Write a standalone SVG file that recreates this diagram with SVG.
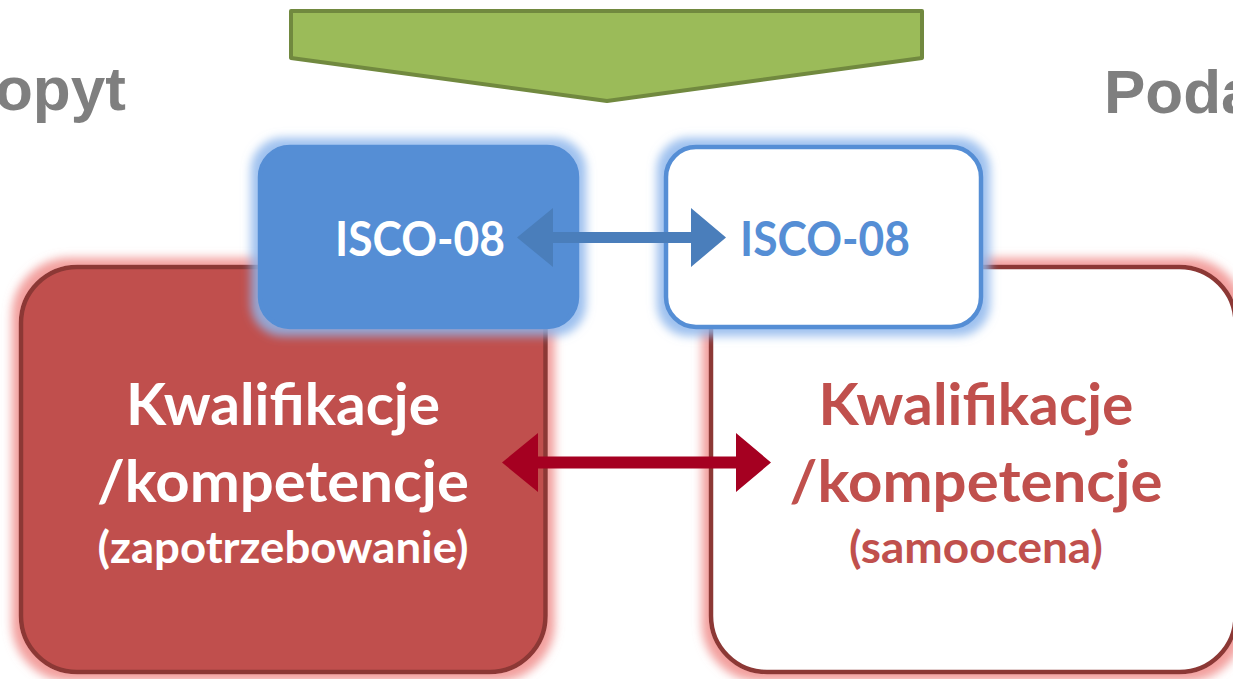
<svg xmlns="http://www.w3.org/2000/svg" width="1233" height="679" viewBox="0 0 1233 679">
  <style>
    .side { font-family: "Liberation Sans", Arial, sans-serif; font-weight: bold; font-size: 62px; fill: #7F7F7F; }
    .lbl { font-family: Lato, "Open Sans", sans-serif; font-weight: bold; text-anchor: middle; }
    .main { font-size: 57px; }
    .sub { font-size: 43px; }
    .isco { font-size: 47px; }
    .redBox { stroke: #8C3836; stroke-width: 4.5; }
    .blueBox { stroke: #558ED5; stroke-width: 4.5; }
  </style>
  <defs>
    <filter id="glowRed" x="-10%" y="-10%" width="120%" height="120%">
      <feMorphology in="SourceAlpha" operator="dilate" radius="7" result="grown"/>
      <feGaussianBlur in="grown" stdDeviation="5" result="soft"/>
      <feFlood flood-color="#F08E8C" flood-opacity="0.85"/>
      <feComposite in2="soft" operator="in" result="halo"/>
      <feMerge><feMergeNode in="halo"/><feMergeNode in="SourceGraphic"/></feMerge>
    </filter>
    <filter id="glowBlue" x="-15%" y="-20%" width="130%" height="140%">
      <feMorphology in="SourceAlpha" operator="dilate" radius="7" result="grown"/>
      <feGaussianBlur in="grown" stdDeviation="5" result="soft"/>
      <feFlood flood-color="#8DB6EC" flood-opacity="0.85"/>
      <feComposite in2="soft" operator="in" result="halo"/>
      <feMerge><feMergeNode in="halo"/><feMergeNode in="SourceGraphic"/></feMerge>
    </filter>
  </defs>

  <rect width="1233" height="679" fill="#FFFFFF"/>

  <!-- side headings, running off the page edges -->
  <text id="demand-title" class="side" x="-5" y="110">opyt</text>
  <text id="supply-title" class="side" x="1104" y="113">Poda</text>

  <!-- green pentagon banner -->
  <g id="banner">
    <polygon points="291,11 922,11 922,58 607,101 291,58" fill="#9BBB59" stroke="#71893F" stroke-width="4" stroke-linejoin="round"/>
  </g>

  <!-- qualification boxes -->
  <g id="demand-box">
    <rect class="redBox" x="21" y="267" width="524.5" height="405" rx="56" fill="#C0504D" filter="url(#glowRed)"/>
    <text class="lbl main" x="283" y="425" fill="#FFFFFF" textLength="314" lengthAdjust="spacingAndGlyphs">Kwalifikacje</text>
    <text class="lbl main" x="283" y="502" fill="#FFFFFF" textLength="372" lengthAdjust="spacingAndGlyphs">/kompetencje</text>
    <text class="lbl sub" x="283" y="563" fill="#FFFFFF" textLength="371" lengthAdjust="spacingAndGlyphs">(zapotrzebowanie)</text>
  </g>
  <g id="supply-box">
    <rect class="redBox" x="711" y="267" width="524.5" height="405" rx="56" fill="#FFFFFF" filter="url(#glowRed)"/>
    <text class="lbl main" x="976" y="425" fill="#C0504D" textLength="315" lengthAdjust="spacingAndGlyphs">Kwalifikacje</text>
    <text class="lbl main" x="976" y="502" fill="#C0504D" textLength="373" lengthAdjust="spacingAndGlyphs">/kompetencje</text>
    <text class="lbl sub" x="976" y="563" fill="#C0504D" textLength="254" lengthAdjust="spacingAndGlyphs">(samoocena)</text>
  </g>

  <!-- ISCO classification boxes -->
  <g id="demand-isco">
    <rect class="blueBox" x="260" y="147" width="317" height="180" rx="30" fill="#558ED5" filter="url(#glowBlue)"/>
    <text class="lbl isco" x="420" y="256" fill="#FFFFFF" textLength="170" lengthAdjust="spacingAndGlyphs">ISCO-08</text>
  </g>
  <g id="supply-isco">
    <rect class="blueBox" x="666" y="147" width="315" height="180" rx="30" fill="#FFFFFF" filter="url(#glowBlue)"/>
    <text class="lbl isco" x="825" y="256" fill="#558ED5" textLength="170" lengthAdjust="spacingAndGlyphs">ISCO-08</text>
  </g>

  <!-- two-way links -->
  <g id="connectors">
    <polygon points="517,237.5 553,208 553,232 691,232 691,208 726,237.5 691,267 691,243 553,243 553,267" fill="#4A7EBB"/>
    <polygon points="502,462.5 538,433 538,456.5 736,456.5 736,433 771,462.5 736,492 736,468.5 538,468.5 538,492" fill="#A50021"/>
  </g>
</svg>
